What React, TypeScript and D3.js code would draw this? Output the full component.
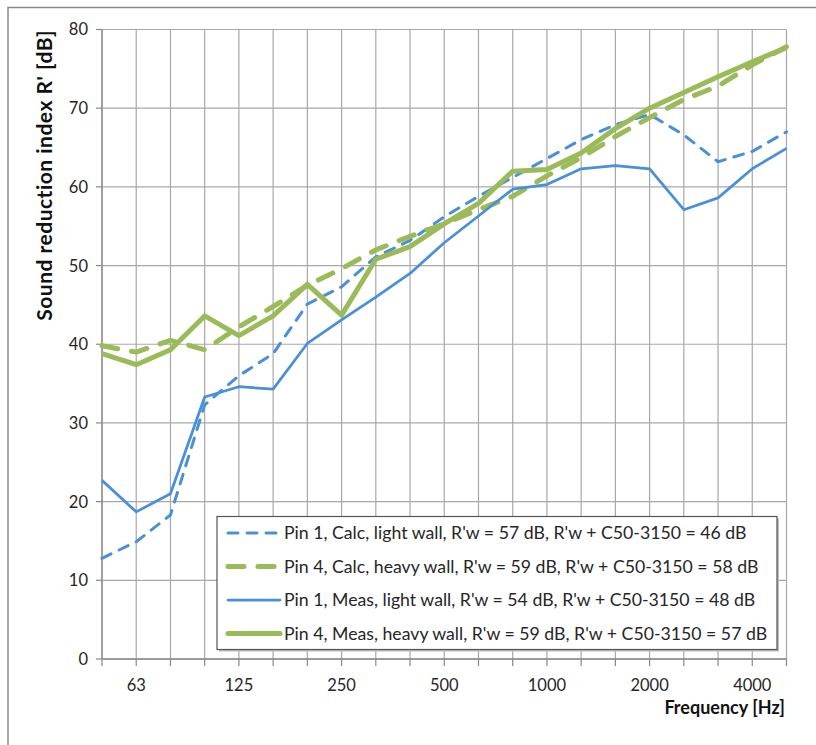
import * as d3 from "d3";

// 1/3 octave bands
const bands = ["50", "63", "80", "100", "125", "160", "200", "250", "315", "400", "500", "630", "800", "1000", "1250", "1600", "2000", "2500", "3150", "4000", "5000"];
const labelledBands = ["63", "125", "250", "500", "1000", "2000", "4000"];
const yTicks = [0, 10, 20, 30, 40, 50, 60, 70, 80];

const pin1Calc = [12.8, 14.9, 18.3, 32.3, 36.0, 38.8, 45.1, 47.3, 51.1, 53.2, 56.2, 58.8, 61.2, 63.6, 66.0, 67.9, 69.2, 66.6, 63.2, 64.5, 67.0];
const pin4Calc = [39.8, 39.0, 40.5, 39.3, 42.2, 44.8, 47.5, 49.6, 52.0, 53.7, 55.3, 57.1, 58.8, 61.4, 63.7, 66.4, 68.8, 71.1, 72.8, 75.5, 77.8];
const pin1Meas = [22.7, 18.7, 21.0, 33.3, 34.6, 34.3, 40.1, 43.1, 46.0, 49.0, 52.9, 56.3, 59.7, 60.3, 62.3, 62.7, 62.3, 57.1, 58.6, 62.3, 64.9];
const pin4Meas = [38.8, 37.4, 39.3, 43.6, 41.1, 43.6, 47.6, 43.7, 50.8, 52.4, 55.3, 57.9, 62.0, 62.2, 64.3, 67.4, 70.0, 72.0, 74.0, 75.9, 77.7];

const legendLabels = [
  "Pin 1, Calc, light wall, R'w = 57 dB, R'w + C50-3150 = 46 dB",
  "Pin 4, Calc, heavy wall, R'w = 59 dB, R'w + C50-3150 = 58 dB",
  "Pin 1, Meas, light wall, R'w = 54 dB, R'w + C50-3150 = 48 dB",
  "Pin 4, Meas, heavy wall, R'w = 59 dB, R'w + C50-3150 = 57 dB",
];

const BLUE = "#4a8fd9";
const GREEN = "#9bbb59";
const FONT = "Lato, 'Open Sans', sans-serif";

const series = [
  { values: pin1Calc, color: BLUE, width: 3, dash: "10 9" },
  { values: pin4Calc, color: GREEN, width: 5, dash: "16 14" },
  { values: pin1Meas, color: BLUE, width: 2.75, dash: null },
  { values: pin4Meas, color: GREEN, width: 5, dash: null },
];

export default function App() {
  const left = 102, right = 786.5, top = 29.5, bottom = 659;

  const x = d3.scalePoint<string>().domain(bands).range([left, right]).padding(0);
  const y = d3.scaleLinear().domain([0, 80]).range([bottom, top]);

  const line = d3
    .line<number>()
    .x((_, i) => x(bands[i]) as number)
    .y((d) => y(d));

  // legend placement
  const lg = { x: 217, y: 516.5, w: 560, h: 133 };
  const rowY = (i: number) => 533 + i * 33.5;

  return (
    <svg
      width={816}
      height={745}
      style={{ position: "absolute", left: 0, top: 0, background: "#fff" }}
      fontFamily={FONT}
    >
      <rect x={8} y={7.5} width={900} height={900} fill="#fff" stroke="#8a8a8a" strokeWidth={1.5} />

      {/* horizontal grid */}
      {yTicks.map((t) => (
        <g key={"h" + t}>
          <line x1={left} x2={right} y1={y(t)} y2={y(t)} stroke="#a8a8a8" strokeWidth={1.2} />
          <line x1={left - 6} x2={left} y1={y(t)} y2={y(t)} stroke="#888" strokeWidth={1.2} />
          <text x={88} y={y(t)} dy="0.36em" textAnchor="end" fontSize={16.5} fill="#262626">
            {t}
          </text>
        </g>
      ))}

      {/* vertical grid */}
      {bands.map((b) => (
        <g key={"v" + b}>
          <line x1={x(b)} x2={x(b)} y1={top} y2={bottom} stroke="#a8a8a8" strokeWidth={1.2} />
          <line x1={x(b)} x2={x(b)} y1={bottom} y2={bottom + 7} stroke="#888" strokeWidth={1.2} />
        </g>
      ))}

      {/* axes */}
      <line x1={left} x2={left} y1={top} y2={bottom} stroke="#888" strokeWidth={1.3} />
      <line x1={left} x2={right} y1={bottom} y2={bottom} stroke="#888" strokeWidth={1.3} />

      {labelledBands.map((b) => (
        <text key={"xl" + b} x={x(b)} y={691} textAnchor="middle" fontSize={16.5} fill="#262626">
          {b}
        </text>
      ))}

      {/* series */}
      {series.map((s, i) => (
        <path
          key={"s" + i}
          d={line(s.values) || ""}
          fill="none"
          stroke={s.color}
          strokeWidth={s.width}
          strokeDasharray={s.dash || undefined}
          strokeLinejoin="round"
          strokeLinecap={s.dash ? "round" : "butt"}
        />
      ))}

      {/* legend */}
      <rect x={lg.x + 2} y={lg.y + 2} width={lg.w} height={lg.h} fill="#bbb" />
      <rect x={lg.x} y={lg.y} width={lg.w} height={lg.h} fill="#fff" stroke="#555" strokeWidth={1.2} />
      {series.map((s, i) => (
        <g key={"lg" + i}>
          <line
            x1={228}
            x2={280}
            y1={rowY(i)}
            y2={rowY(i)}
            stroke={s.color}
            strokeWidth={s.width}
            strokeDasharray={s.dash || undefined}
            strokeLinecap="round"
          />
          <text x={284} y={rowY(i)} dy="0.36em" fontSize={17.7} fill="#262626">
            {legendLabels[i]}
          </text>
        </g>
      ))}

      {/* axis titles */}
      <text
        transform={`translate(52,30) rotate(-90)`}
        textAnchor="end"
        fontSize={21}
        letterSpacing={0.5}
        fontWeight="bold"
        fill="#111"
      >
        Sound reduction index R' [dB]
      </text>
      <text x={785} y={714} textAnchor="end" fontSize={18} fontWeight="bold" fill="#111">
        Frequency [Hz]
      </text>
    </svg>
  );
}
